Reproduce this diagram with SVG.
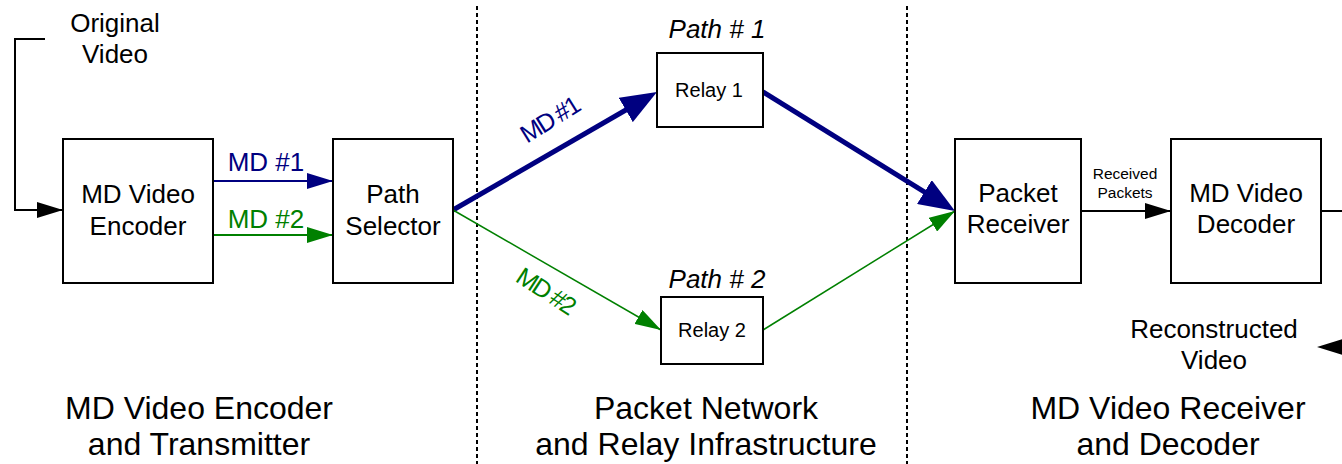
<svg xmlns="http://www.w3.org/2000/svg" width="1342" height="464" viewBox="0 0 1342 464">
<style>
text{font-family:"Liberation Sans",Arial,sans-serif;fill:#000}
.box{fill:#fff;stroke:#000;stroke-width:2}
.t26{font-size:26px;text-anchor:middle}
.t20{font-size:20px;text-anchor:middle}
.t32{font-size:32px;text-anchor:middle}
.it{font-size:26px;font-style:italic;text-anchor:middle}
.blue{fill:#000080}
.green{fill:#008000}
.rot{font-size:25px;text-anchor:middle;letter-spacing:-2px}
.dash{stroke:#000;stroke-width:2;stroke-dasharray:4 3;fill:none}
</style>
<defs>
<marker id="ak" markerUnits="userSpaceOnUse" markerWidth="26" markerHeight="16" refX="26" refY="8" orient="auto"><path d="M0,0 L26,8 L0,16 z" fill="#000"/></marker>
<marker id="ab" markerUnits="userSpaceOnUse" markerWidth="26" markerHeight="16" refX="26" refY="8" orient="auto"><path d="M0,0 L26,8 L0,16 z" fill="#000080"/></marker>
<marker id="ag" markerUnits="userSpaceOnUse" markerWidth="26" markerHeight="16" refX="26" refY="8" orient="auto"><path d="M0,0 L26,8 L0,16 z" fill="#008000"/></marker>
<marker id="abb" markerUnits="userSpaceOnUse" markerWidth="36" markerHeight="28" refX="26" refY="14" orient="auto"><path d="M0,0 L36,14 L0,28 z" fill="#000080"/></marker>
</defs>

<g id="dividers">
<line class="dash" x1="477" y1="6" x2="477" y2="464"/>
<line class="dash" x1="907" y1="6" x2="907" y2="464"/>
</g>

<g id="connectors" fill="none">
<path d="M45,39 H15 V210 H63" stroke="#000" stroke-width="2" marker-end="url(#ak)"/>
<line x1="213" y1="181" x2="333" y2="181" stroke="#000080" stroke-width="2" marker-end="url(#ab)"/>
<line x1="213" y1="235" x2="333" y2="235" stroke="#008000" stroke-width="2" marker-end="url(#ag)"/>
<line x1="453" y1="210" x2="648.3" y2="97" stroke="#000080" stroke-width="5" marker-end="url(#abb)"/>
<line x1="763" y1="92" x2="946.5" y2="205.7" stroke="#000080" stroke-width="5" marker-end="url(#abb)"/>
<line x1="453" y1="210" x2="661" y2="330" stroke="#008000" stroke-width="1.5" marker-end="url(#ag)"/>
<line x1="763" y1="330" x2="955" y2="211" stroke="#008000" stroke-width="1.5" marker-end="url(#ag)"/>
<line x1="1081" y1="211" x2="1171" y2="211" stroke="#000" stroke-width="2" marker-end="url(#ak)"/>
<line x1="1321" y1="211" x2="1342" y2="211" stroke="#000" stroke-width="2"/>
<path d="M1317,347 L1343,339 L1343,355 z" fill="#000"/>
<text class="t26 blue" x="266" y="171">MD #1</text>
<text class="t26 green" x="266" y="228">MD #2</text>
<text class="rot blue" x="554" y="127" transform="rotate(-32 554 127)">MD #1</text>
<text class="rot green" x="541" y="298" transform="rotate(33 541 298)">MD #2</text>
<text font-size="15.5" text-anchor="middle" x="1125" y="179">Received</text>
<text font-size="15.5" text-anchor="middle" x="1125" y="198">Packets</text>
</g>

<g id="original-video">
<text class="t26" x="115" y="32">Original</text>
<text class="t26" x="115" y="63">Video</text>
</g>

<g id="encoder">
<rect class="box" x="63" y="139" width="150" height="144"/>
<text class="t26" x="138" y="203">MD Video</text>
<text class="t26" x="138" y="235">Encoder</text>
</g>

<g id="path-selector">
<rect class="box" x="333" y="139" width="120" height="144"/>
<text class="t26" x="393" y="203">Path</text>
<text class="t26" x="393" y="235">Selector</text>
</g>

<g id="relay1">
<text class="it" x="717" y="38">Path # 1</text>
<rect class="box" x="657" y="53" width="106" height="74"/>
<text class="t20" x="709" y="97">Relay 1</text>
</g>

<g id="relay2">
<text class="it" x="717" y="288">Path # 2</text>
<rect class="box" x="661" y="297" width="102" height="67"/>
<text class="t20" x="712" y="337">Relay 2</text>
</g>

<g id="packet-receiver">
<rect class="box" x="955" y="139" width="126" height="144"/>
<text class="t26" x="1018" y="202">Packet</text>
<text class="t26" x="1018" y="233">Receiver</text>
</g>

<g id="decoder">
<rect class="box" x="1171" y="139" width="150" height="144"/>
<text class="t26" x="1246" y="202">MD Video</text>
<text class="t26" x="1246" y="233">Decoder</text>
</g>

<g id="reconstructed-video">
<text class="t26" x="1214" y="338">Reconstructed</text>
<text class="t26" x="1214" y="369">Video</text>
</g>

<g id="section-labels">
<text class="t32" x="199" y="419">MD Video Encoder</text>
<text class="t32" x="199" y="455">and Transmitter</text>
<text class="t32" x="706" y="419">Packet Network</text>
<text class="t32" x="706" y="455">and Relay Infrastructure</text>
<text class="t32" x="1168" y="419">MD Video Receiver</text>
<text class="t32" x="1168" y="455">and Decoder</text>
</g>
</svg>
